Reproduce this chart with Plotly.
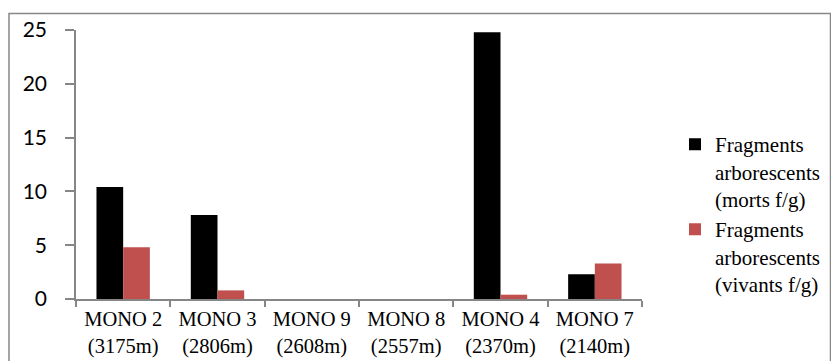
import plotly.graph_objects as go

categories = ["MONO 2<br>(3175m)", "MONO 3<br>(2806m)", "MONO 9<br>(2608m)",
              "MONO 8<br>(2557m)", "MONO 4<br>(2370m)", "MONO 7<br>(2140m)"]
morts = [10.4, 7.8, 0, 0, 24.8, 2.3]
vivants = [4.8, 0.8, 0, 0, 0.4, 3.3]
y_ticks = [0, 5, 10, 15, 20, 25]

serif = "Liberation Serif"

fig = go.Figure()
fig.add_trace(go.Bar(x=categories, y=morts, name="Fragments<br>arborescents<br>(morts f/g)",
                     marker=dict(color="#000000", line=dict(width=0))))
fig.add_trace(go.Bar(x=categories, y=vivants, name="Fragments<br>arborescents<br>(vivants f/g)",
                     marker=dict(color="#C0504D", line=dict(width=0))))

L, R, T, B = 76, 189, 29.5, 61.5
W = 831 - L - R
H = 361 - T - B

fig.update_layout(
    width=831, height=361,
    margin=dict(l=L, r=R, t=T, b=B, pad=0, autoexpand=False),
    paper_bgcolor="white", plot_bgcolor="white",
    barmode="group", bargap=0.434, bargroupgap=0,
    showlegend=True,
    legend=dict(x=(675 - L) / W, xanchor="left", y=(299.5 - 124) / H, yanchor="top",
                font=dict(family=serif, size=21, color="#000000"),
                valign="top", tracegroupgap=0, itemsizing="constant",
                bgcolor="rgba(0,0,0,0)"),
    xaxis=dict(type="category", showgrid=False, showline=True, linecolor="#868686", linewidth=1.5,
               ticks="outside", tickson="boundaries", ticklen=6, tickcolor="#868686", tickwidth=1.5,
               automargin=False, ticklabelstandoff=1,
               tickfont=dict(family=serif, size=20.5, color="#000000"), fixedrange=True),
    yaxis=dict(range=[0, 25], tickvals=y_ticks, showgrid=False, showline=True, linecolor="#868686",
               linewidth=1.5, ticks="outside", ticklen=9, tickcolor="#868686", tickwidth=1.5,
               automargin=False,
               tickfont=dict(family="Lato", size=21, color="#000000"),
               ticklabelstandoff=14, zeroline=False, fixedrange=True),
    shapes=[dict(type="rect", xref="paper", yref="paper",
                 x0=(9 - L) / W, x1=(830.5 - L) / W, y0=-0.5, y1=(299.5 - 13) / H,
                 line=dict(color="#878787", width=1.5), fillcolor="rgba(0,0,0,0)", layer="below")],
)

fig.write_html("out.html")
